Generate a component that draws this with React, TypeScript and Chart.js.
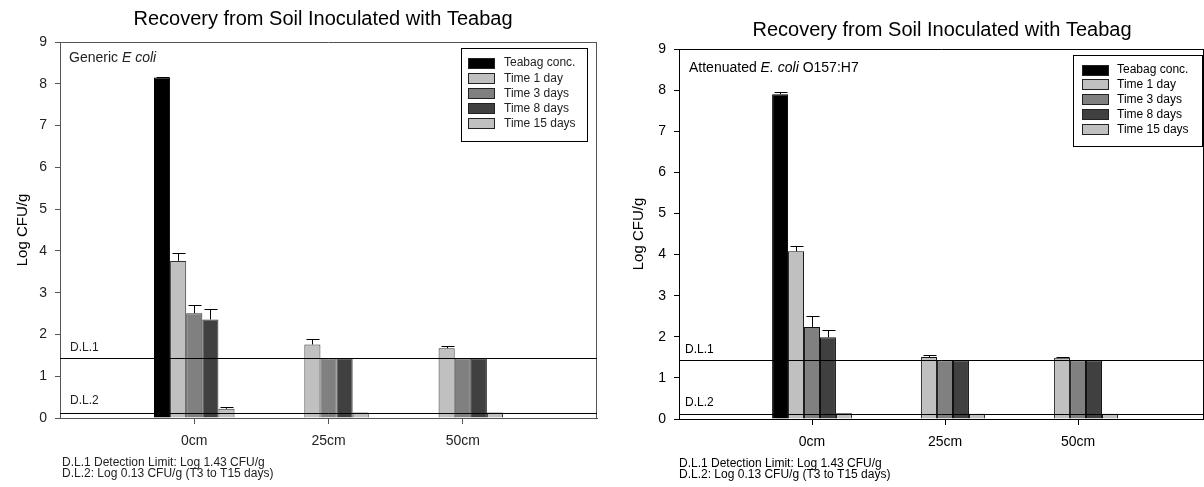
import React, { useEffect, useRef } from 'react';
import { Chart, registerables } from 'chart.js';

Chart.register(...registerables);

// ---------- data ----------
const categories = ['0cm', '25cm', '50cm'];
const categoryPositions = [1, 2, 3];
const seriesNames = ['Teabag conc.', 'Time 1 day', 'Time 3 days', 'Time 8 days', 'Time 15 days'];
const yTickValues = [0, 1, 2, 3, 4, 5, 6, 7, 8, 9];
const detectionLimits = [1.43, 0.13];
const detectionLabels = ['D.L.1', 'D.L.2'];
const footnotes = ['D.L.1 Detection Limit: Log 1.43 CFU/g', 'D.L.2: Log 0.13 CFU/g (T3 to T15 days)'];
const chartTitle = 'Recovery from Soil Inoculated with Teabag';
const yAxisTitle = 'Log CFU/g';

// Generic E. coli
const genericTeabag = [8.15, null, null];
const genericDay1 = [3.76, 1.76, 1.67];
const genericDay3 = [2.51, 1.43, 1.43];
const genericDay8 = [2.36, 1.43, 1.43];
const genericDay15 = [0.22, 0.13, 0.13];
const genericTeabagErr = [0.02, 0, 0];
const genericDay1Err = [0.2, 0.12, 0.06];
const genericDay3Err = [0.2, 0, 0];
const genericDay8Err = [0.26, 0, 0];
const genericDay15Err = [0.04, 0, 0];

// Attenuated E. coli O157:H7
const attTeabag = [7.9, null, null];
const attDay1 = [4.08, 1.51, 1.49];
const attDay3 = [2.24, 1.43, 1.43];
const attDay8 = [1.99, 1.43, 1.43];
const attDay15 = [0.14, 0.13, 0.13];
const attTeabagErr = [0.05, 0, 0];
const attDay1Err = [0.14, 0.04, 0.03];
const attDay3Err = [0.26, 0, 0];
const attDay8Err = [0.17, 0, 0];
const attDay15Err = [0, 0, 0];

// ---------- styles / layout ----------
const FONT = '"Liberation Sans", Arial, sans-serif';
const seriesColors = ['#000000', '#c0c0c0', '#808080', '#404040', '#c0c0c0'];

type Seg = { t: string; italic?: boolean };

const panels = [
  {
    values: [genericTeabag, genericDay1, genericDay3, genericDay8, genericDay15],
    errors: [genericTeabagErr, genericDay1Err, genericDay3Err, genericDay8Err, genericDay15Err],
    annotation: [{ t: 'Generic ' }, { t: 'E coli', italic: true }] as Seg[],
    left: 60, top: 42, rightPad: 5, xAxisHeight: 69, xMax: 4,
    axisColor: '#555555', textColor: '#222222', barBorder: '#333333',
    titlePos: [323, 19], yTitlePos: [23, 230], annPos: [69, 58],
    dlPos: [[70, 348], [70, 401]], footPos: [62, 463, 11],
    legend: { x: 461, y: 48, w: 126, h: 93, sx: 468, tx: 504, row0: 63, step: 15.2 },
  },
  {
    values: [attTeabag, attDay1, attDay3, attDay8, attDay15],
    errors: [attTeabagErr, attDay1Err, attDay3Err, attDay8Err, attDay15Err],
    annotation: [{ t: 'Attenuated ' }, { t: 'E. coli', italic: true }, { t: ' O157:H7' }] as Seg[],
    left: 77, top: 49, rightPad: 0, xAxisHeight: 68, xMax: 3.947,
    axisColor: '#000000', textColor: '#000000', barBorder: '#111111',
    titlePos: [340, 30], yTitlePos: [37, 234], annPos: [87, 68],
    dlPos: [[83, 350], [83, 403]], footPos: [77, 464, 11],
    legend: { x: 471, y: 55, w: 129, h: 91, sx: 480, tx: 515, row0: 70, step: 14.8 },
  },
];

type PanelSpec = (typeof panels)[number];

function drawRich(ctx: CanvasRenderingContext2D, segs: Seg[], x: number, y: number, size: number, color: string) {
  let cx = x;
  ctx.fillStyle = color;
  ctx.textAlign = 'left';
  ctx.textBaseline = 'middle';
  for (const s of segs) {
    ctx.font = `${s.italic ? 'italic ' : ''}${size}px ${FONT}`;
    ctx.fillText(s.t, cx, y);
    cx += ctx.measureText(s.t).width;
  }
}

function panelPlugin(p: PanelSpec) {
  return {
    id: 'panelDecor',
    afterDatasetsDraw(chart: any) {
      const ctx: CanvasRenderingContext2D = chart.ctx;
      const a = chart.chartArea;
      const ys = chart.scales.y;
      ctx.save();

      // frame (top + right)
      ctx.strokeStyle = p.axisColor;
      ctx.lineWidth = 1;
      ctx.beginPath();
      ctx.moveTo(a.left, Math.round(a.top) + 0.5);
      ctx.lineTo(a.right, Math.round(a.top) + 0.5);
      ctx.moveTo(Math.round(a.right) - 0.5, a.top);
      ctx.lineTo(Math.round(a.right) - 0.5, a.bottom);
      ctx.stroke();

      // error bars
      ctx.strokeStyle = '#000000';
      chart.data.datasets.forEach((_ds: any, di: number) => {
        const meta = chart.getDatasetMeta(di);
        meta.data.forEach((el: any, j: number) => {
          const v = p.values[di][j];
          const e = p.errors[di][j];
          if (v == null || !e) return;
          const x = Math.round(el.x) + 0.5;
          const yTop = ys.getPixelForValue(v);
          const yCap = Math.round(ys.getPixelForValue(v + e)) + 0.5;
          ctx.beginPath();
          ctx.moveTo(x, yTop);
          ctx.lineTo(x, yCap);
          ctx.moveTo(x - 6, yCap);
          ctx.lineTo(x + 7, yCap);
          ctx.stroke();
        });
      });

      // detection limit lines
      ctx.strokeStyle = '#000000';
      detectionLimits.forEach((dl) => {
        const yy = Math.round(ys.getPixelForValue(dl)) + 0.5;
        ctx.beginPath();
        ctx.moveTo(a.left, yy);
        ctx.lineTo(a.right, yy);
        ctx.stroke();
      });
      detectionLabels.forEach((t, i) => {
        drawRich(ctx, [{ t }], p.dlPos[i][0], p.dlPos[i][1], 12, p.textColor);
      });

      // annotation
      drawRich(ctx, p.annotation, p.annPos[0], p.annPos[1], 14, p.textColor);

      // title
      ctx.font = `20px ${FONT}`;
      ctx.fillStyle = '#000000';
      ctx.textAlign = 'center';
      ctx.textBaseline = 'middle';
      ctx.fillText(chartTitle, p.titlePos[0], p.titlePos[1]);

      // y axis title
      ctx.save();
      ctx.translate(p.yTitlePos[0], p.yTitlePos[1]);
      ctx.rotate(-Math.PI / 2);
      ctx.font = `15px ${FONT}`;
      ctx.textAlign = 'center';
      ctx.textBaseline = 'middle';
      ctx.fillText(yAxisTitle, 0, 0);
      ctx.restore();

      // footnotes
      footnotes.forEach((t, i) => {
        drawRich(ctx, [{ t }], p.footPos[0], p.footPos[1] + i * p.footPos[2], 12, p.textColor);
      });

      // legend
      const L = p.legend;
      ctx.fillStyle = '#ffffff';
      ctx.fillRect(L.x, L.y, L.w, L.h);
      ctx.strokeStyle = '#000000';
      ctx.strokeRect(L.x + 0.5, L.y + 0.5, L.w, L.h);
      seriesNames.forEach((name, i) => {
        const cy = L.row0 + i * L.step;
        ctx.fillStyle = seriesColors[i];
        ctx.fillRect(L.sx, Math.round(cy - 5.5), 27, 11);
        ctx.strokeStyle = '#222222';
        ctx.strokeRect(L.sx + 0.5, Math.round(cy - 5.5) + 0.5, 26, 10);
        drawRich(ctx, [{ t: name }], L.tx, cy, 12, p.textColor);
      });

      ctx.restore();
    },
  };
}

function makeConfig(p: PanelSpec): any {
  return {
    type: 'bar',
    data: {
      datasets: seriesNames.map((name, i) => ({
        label: name,
        data: categoryPositions.map((x, j) => ({ x, y: p.values[i][j] })),
        backgroundColor: seriesColors[i],
        borderColor: i === 0 ? '#000000' : p.barBorder,
        borderWidth: 1,
        categoryPercentage: 0.6,
        barPercentage: 1,
      })),
    },
    options: {
      animation: false,
      responsive: false,
      events: [],
      layout: { padding: { top: p.top, right: p.rightPad, left: 0, bottom: 0 } },
      plugins: { legend: { display: false }, tooltip: { enabled: false }, title: { display: false } },
      scales: {
        x: {
          type: 'linear',
          min: 0,
          max: p.xMax,
          offset: false,
          afterBuildTicks: (s: any) => {
            s.ticks = categoryPositions.map((v) => ({ value: v }));
          },
          afterFit: (s: any) => {
            s.height = p.xAxisHeight;
          },
          ticks: {
            autoSkip: false,
            maxRotation: 0,
            padding: 9,
            color: p.textColor,
            font: { family: FONT, size: 14 },
            callback: (v: number) => {
              const k = categoryPositions.indexOf(v);
              return k >= 0 ? categories[k] : '';
            },
          },
          grid: { drawOnChartArea: false, offset: false, tickLength: 6, color: p.axisColor },
          border: { color: p.axisColor, width: 1 },
        },
        y: {
          min: 0,
          max: 9,
          afterBuildTicks: (s: any) => {
            s.ticks = yTickValues.map((v) => ({ value: v }));
          },
          afterFit: (s: any) => {
            s.width = p.left;
          },
          ticks: {
            padding: 8,
            color: p.textColor,
            font: { family: FONT, size: 14 },
          },
          grid: { drawOnChartArea: false, tickLength: 5, color: p.axisColor },
          border: { color: p.axisColor, width: 1 },
        },
      },
    },
    plugins: [panelPlugin(p)],
  };
}

function Panel({ spec }: { spec: PanelSpec }) {
  const ref = useRef<HTMLCanvasElement>(null);
  useEffect(() => {
    const chart = new Chart(ref.current as HTMLCanvasElement, makeConfig(spec));
    return () => chart.destroy();
  }, [spec]);
  return <canvas ref={ref} width={602} height={487} style={{ display: 'block', width: 602, height: 487 }} />;
}

export default function App() {
  return (
    <div
      style={{
        position: 'fixed',
        left: 0,
        top: 0,
        width: 1204,
        height: 487,
        display: 'flex',
        background: '#ffffff',
        overflow: 'hidden',
      }}
    >
      {panels.map((p, i) => (
        <Panel key={i} spec={p} />
      ))}
    </div>
  );
}
